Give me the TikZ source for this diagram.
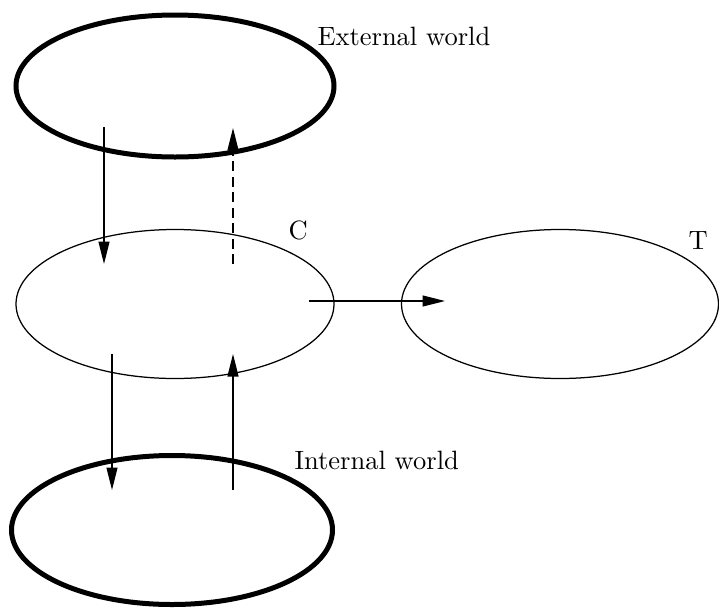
\documentclass[tikz,border=0pt]{standalone}
\usetikzlibrary{shapes.geometric,arrows.meta}
\begin{document}
\begin{tikzpicture}[x=0.4pt,y=-0.4pt,
  world/.style={ellipse,draw,line width=2pt,inner sep=0pt},
  blob/.style={ellipse,draw,line width=0.5pt,inner sep=0pt},
  flow/.style={line width=0.5pt,-{Triangle[length=9pt,width=4.4pt]}},
  lbl/.style={inner sep=0pt,anchor=base west,font=\fontsize{10.6}{12}\selectfont}]
\useasboundingbox (0,0) rectangle (719,614);
\node[world,minimum width=318*0.4pt,minimum height=142*0.4pt] (ext) at (175,86) {};
\node[blob,minimum width=318*0.4pt,minimum height=149*0.4pt] (C) at (175,304) {};
\node[blob,minimum width=317*0.4pt,minimum height=149*0.4pt] (T) at (560,304) {};
\node[world,minimum width=321*0.4pt,minimum height=149*0.4pt] (int) at (172,530) {};
\node[lbl] (extl) at (317,45) {External world};
\node[lbl] (Cl) at (288,239) {C};
\node[lbl] (Tl) at (688,249) {T};
\node[lbl] (intl) at (294,469) {Internal world};
\coordinate (a1) at (104,127);
\coordinate (a2) at (104,264);
\coordinate (b1) at (233,264);
\coordinate (b2) at (233,128);
\coordinate (c1) at (309,301);
\coordinate (c2) at (445,301);
\coordinate (d1) at (112,354);
\coordinate (d2) at (112,490);
\coordinate (e1) at (233,490);
\coordinate (e2) at (233,354);
\draw[flow] (a1) -- (a2);
\draw[flow,dash pattern=on 4pt off 2.2pt] (b1) -- (b2);
\draw[flow] (c1) -- (c2);
\draw[flow] (d1) -- (d2);
\draw[flow] (e1) -- (e2);
\end{tikzpicture}
\end{document}
